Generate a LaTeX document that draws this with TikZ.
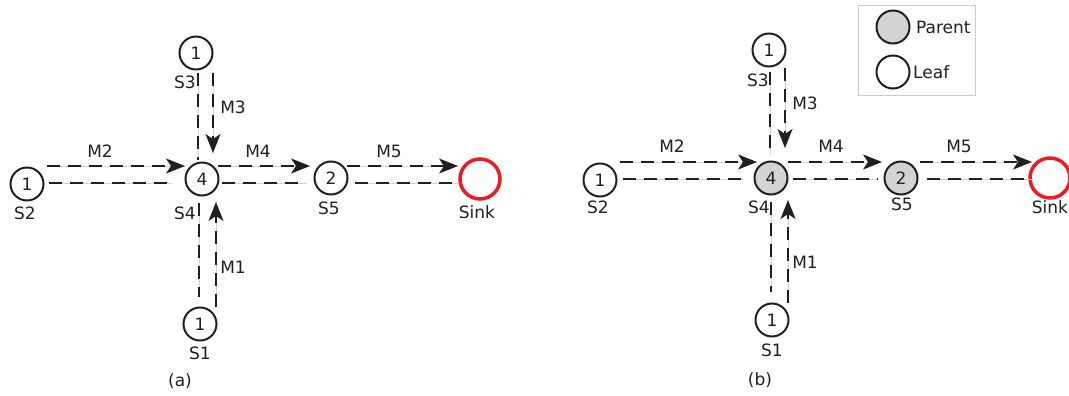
\documentclass[tikz,border=0pt]{standalone}
\usepackage{fontspec}
\setmainfont{DejaVu Sans}
\usetikzlibrary{arrows.meta,calc}
\definecolor{ink}{HTML}{231F20}
\definecolor{pfill}{HTML}{D1D3D4}
\definecolor{sinkred}{HTML}{ED1C24}
\begin{document}
\begin{tikzpicture}[x=1pt,y=-1pt,
  font=\fontsize{17pt}{20pt}\selectfont,
  circ/.style={circle, draw=ink, line width=2pt, minimum size=33pt, inner sep=0pt, text=ink, fill=white},
  parent/.style={circ, fill=pfill},
  sinknode/.style={circle, draw=sinkred, line width=3.5pt, minimum size=40pt, inner sep=0pt},
  lbl/.style={text=ink, inner sep=0pt},
  msg/.style={draw=ink, line width=1.5pt, dash pattern=on 13pt off 8pt,
    preaction={draw=black!18, line width=0.7pt, solid, -}},
  arr/.style={msg, -{Stealth[length=19pt,width=15pt,inset=5pt]}},
  legendbox/.style={draw=black!20, line width=0.8pt}]
\useasboundingbox (0,0) rectangle (1069,396);

% ---------------- panel (a) ----------------
\node[circ] (a3) at (196,53) {1};
\node[circ] (a2) at (27,184) {1};
\node[circ] (a4) at (202,179) {4};
\node[circ] (a5) at (331,178) {2};
\node[sinknode] (ak) at (480,179) {};
\node[circ] (a1) at (200,324) {1};

\draw[arr] ($(a2)+(20,-18)$) -- ($(a4)+(-17,-13)$);
\draw[msg] ($(a2)+(22,-1)$) -- ($(a4)+(-30,4)$);
\draw[arr] ($(a4)+(16,-13)$) -- ($(a5)+(-21,-12)$);
\draw[msg] ($(a4)+(20,4)$) -- ($(a5)+(-25,5)$);
\draw[arr] ($(a5)+(16,-12)$) -- ($(ak)+(-22,-13)$);
\draw[msg] ($(a5)+(24,5)$) -- ($(ak)+(-22,4)$);
\draw[msg] ($(a3)+(2,20)$) -- ($(a4)+(-4,-19)$);
\draw[arr] ($(a3)+(17,20)$) -- ($(a4)+(11,-26)$);
\draw[msg] ($(a4)+(-3,24)$) -- ($(a1)+(-1,-27)$);
\draw[arr] ($(a1)+(16,-17)$) -- ($(a4)+(14,23)$);

\node[lbl] (la3) at (185,82) {S3};
\node[lbl] (la2) at (25,213) {S2};
\node[lbl] (la4) at (185,213) {S4};
\node[lbl] (la5) at (329,208) {S5};
\node[lbl] (lak) at (477,212) {Sink};
\node[lbl] (la1) at (200,353) {S1};
\node[lbl] (lcapa) at (180,381) {(a)};
\node[lbl] (ma1) at (233,267) {M1};
\node[lbl] (ma2) at (100,151) {M2};
\node[lbl] (ma3) at (233,107) {M3};
\node[lbl] (ma4) at (258,151) {M4};
\node[lbl] (ma5) at (389,151) {M5};

% ---------------- panel (b) ----------------
\node[circ] (b3) at (769,50) {1};
\node[circ] (b2) at (600,180) {1};
\node[parent] (b4) at (771,178) {4};
\node[parent] (b5) at (901,178) {2};
\node[sinknode] (bk) at (1050,178) {};
\node[circ] (b1) at (772,320) {1};

\draw[arr] ($(b2)+(20,-18)$) -- ($(b4)+(-14,-16)$);
\draw[msg] ($(b2)+(23,-1)$) -- ($(b4)+(-28,1)$);
\draw[arr] ($(b4)+(17,-16)$) -- ($(b5)+(-19,-16)$);
\draw[msg] ($(b4)+(22,1)$) -- ($(b5)+(-23,1)$);
\draw[arr] ($(b5)+(19,-16)$) -- ($(bk)+(-18,-16)$);
\draw[msg] ($(b5)+(26,1)$) -- ($(bk)+(-18,1)$);
\draw[msg] ($(b3)+(1,22)$) -- ($(b4)+(-1,-23)$);
\draw[arr] ($(b3)+(16,18)$) -- ($(b4)+(14,-30)$);
\draw[msg] ($(b4)+(0,24)$) -- ($(b1)+(-1,-28)$);
\draw[arr] ($(b1)+(16,-17)$) -- ($(b4)+(17,22)$);

\node[lbl] (lb3) at (758,80) {S3};
\node[lbl] (lb2) at (598,207) {S2};
\node[lbl] (lb4) at (759,207) {S4};
\node[lbl] (lb5) at (902,204) {S5};
\node[lbl] (lbk) at (1050,207) {Sink};
\node[lbl] (lb1) at (772,350) {S1};
\node[lbl] (lcapb) at (760,380) {(b)};
\node[lbl] (mb1) at (805,262) {M1};
\node[lbl] (mb2) at (672,146) {M2};
\node[lbl] (mb3) at (805,103) {M3};
\node[lbl] (mb4) at (831,146) {M4};
\node[lbl] (mb5) at (959,146) {M5};

% legend
\draw[legendbox] (858,5) rectangle (975,95);
\node[parent] (legp) at (893,27) {};
\node[circ] (legl) at (893,72) {};
\node[lbl, anchor=west] (legpt) at (916,27) {Parent};
\node[lbl, anchor=west] (leglt) at (913,72) {Leaf};
\end{tikzpicture}
\end{document}
